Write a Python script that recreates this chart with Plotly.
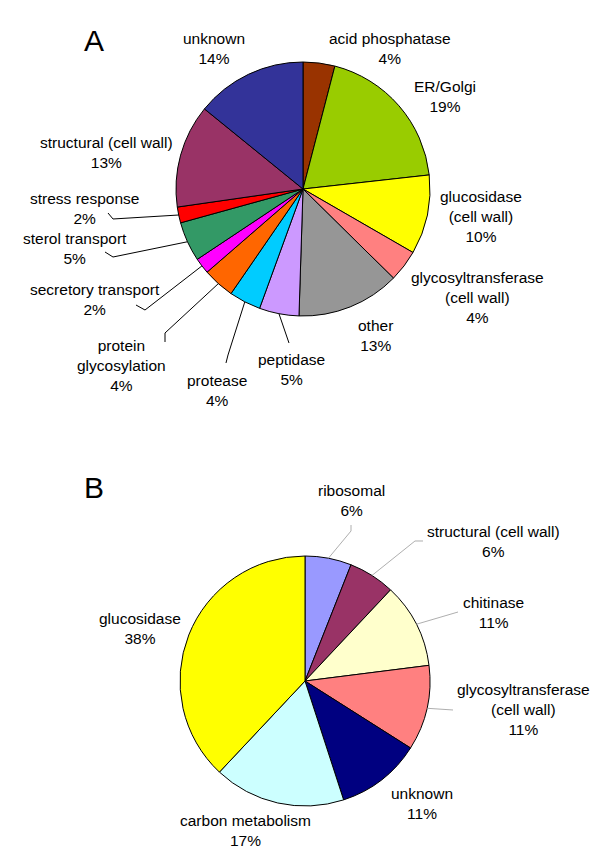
import math
import plotly.graph_objects as go

W, H = 600, 854

# ---------------- data: panel A ----------------
a_names = ["acid phosphatase", "ER/Golgi", "glucosidase<br>(cell wall)",
           "glycosyltransferase<br>(cell wall)", "other", "peptidase", "protease",
           "protein<br>glycosylation", "secretory transport", "sterol transport",
           "stress response", "structural (cell wall)", "unknown"]
a_values = [4, 19, 10, 4, 13, 5, 4, 4, 2, 5, 2, 13, 14]
a_colors = ["#993300", "#99CC00", "#FFFF00", "#FF8080", "#969696", "#CC99FF",
            "#00CCFF", "#FF6600", "#FF00FF", "#339966", "#FF0000", "#993366",
            "#333399"]

# ---------------- data: panel B ----------------
b_names = ["ribosomal", "structural (cell wall)", "chitinase",
           "glycosyltransferase<br>(cell wall)", "unknown", "carbon metabolism",
           "glucosidase"]
b_values = [6, 6, 11, 11, 11, 17, 38]
b_colors = ["#9999FF", "#993366", "#FFFFCC", "#FF8080", "#000080", "#CCFFFF",
            "#FFFF00"]

# ---------------- layout (pixel positions) ----------------
A_C, A_R = (295, 181), 127
B_C, B_R = (297, 673), 125

a_label_pos = [(382, 40), (437, 88), (473, 209), (469, 290), (367, 327),
               (283, 361), (209, 383), (113, 357), (87, 291), (67, 241),
               (76, 200), (98, 145), (206, 40)]
# leader knees (label side) for pie A, None = no leader
a_knees = [None, None, None, None, None,
           [(281, 335)],
           [(218, 355), (220, 347)],
           [(157, 334), (157, 325)],
           [(128, 297), (137, 302)],
           [(97, 244), (105, 249)],
           [(100, 205), (105, 211)],
           None, None]

b_label_pos = [(343, 492), (485, 533), (485, 604), (515, 701), (414, 795),
               (237, 822), (132, 620)]
b_knees = [[(343, 517), (343, 523)],
           [(415, 533), (407, 533)],
           [(450, 604)],
           [(445, 702)],
           None, None, None]


def px(x, y):
    return x / W, 1 - y / H


def domain(c, r):
    return dict(x=[(c[0] - r) / W, (c[0] + r) / W],
                y=[1 - (c[1] + r) / H, 1 - (c[1] - r) / H])


def edge_points(values, c, r):
    tot = sum(values)
    pts, cum = [], 0
    for v in values:
        ang = math.radians((cum + v / 2) / tot * 360)
        pts.append((c[0] + r * math.sin(ang), c[1] - r * math.cos(ang)))
        cum += v
    return pts


fig = go.Figure()
for names, vals, cols, c, r in [(a_names, a_values, a_colors, A_C, A_R),
                                (b_names, b_values, b_colors, B_C, B_R)]:
    fig.add_trace(go.Pie(
        labels=[n.replace("<br>", " ") for n in names], values=vals,
        marker=dict(colors=cols, line=dict(color="black", width=1)),
        sort=False, direction="clockwise", rotation=0,
        textinfo="none", hoverinfo="label+percent", showlegend=False,
        domain=domain(c, r)))

font = dict(family="Liberation Sans, Arial, sans-serif", size=15.5, color="black")
annotations, shapes = [], []

def add_labels(names, vals, pos, knees, c, r, lcolor, lwidth):
    edges = edge_points(vals, c, r)
    for n, v, p, k, e in zip(names, vals, pos, knees, edges):
        x, y = px(*p)
        annotations.append(dict(text=f"{n}<br>{v}%", x=x, y=y, xref="paper",
                                yref="paper", showarrow=False, xanchor="center",
                                yanchor="middle", font=font, align="center"))
        if k:
            pts = list(k) + [e]
            path = "M " + " L ".join(f"{px(*q)[0]:.5f},{px(*q)[1]:.5f}" for q in pts)
            shapes.append(dict(type="path", path=path, xref="paper", yref="paper",
                               line=dict(color=lcolor, width=lwidth)))

add_labels(a_names, a_values, a_label_pos, a_knees, A_C, A_R, "black", 1)
add_labels(b_names, b_values, b_label_pos, b_knees, B_C, B_R, "#999999", 0.8)

for letter, p in [("A", (86, 32)), ("B", (86, 480))]:
    x, y = px(*p)
    annotations.append(dict(text=letter, x=x, y=y, xref="paper", yref="paper",
                            showarrow=False, xanchor="center", yanchor="middle",
                            font=dict(family="Liberation Sans, Arial, sans-serif",
                                      size=30, color="black")))

fig.update_layout(width=W, height=H, margin=dict(l=0, r=0, t=0, b=0),
                  paper_bgcolor="white", plot_bgcolor="white",
                  annotations=annotations, shapes=shapes)

fig.write_html("out.html")
